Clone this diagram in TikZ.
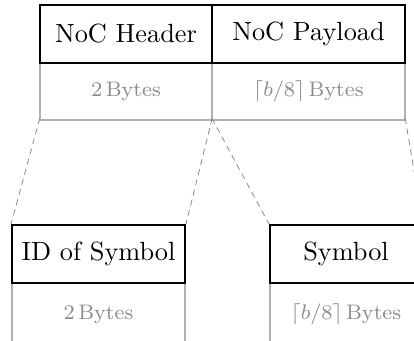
\documentclass[tikz,border=0pt]{standalone}
\usepackage{fontspec}
\usepackage{graphicx}
\definecolor{celledge}{HTML}{B0B0B0}
\definecolor{sizetext}{HTML}{8C8C8C}
\definecolor{zoomline}{HTML}{8A8A8A}
% labels are set at document size and enlarged as a whole
\newcommand{\fieldlabel}[1]{\scalebox{2.63}{\normalsize #1}}
\newcommand{\sizelabel}[1]{\scalebox{2.63}{\footnotesize #1}}
\begin{document}
\begin{tikzpicture}[x=1pt,y=-1pt,
  field/.style={draw=black,line width=1.9pt,minimum height=58pt,inner sep=0pt},
  sizecell/.style={minimum height=57pt,inner sep=0pt,text=sizetext},
  cellrule/.style={draw=celledge,line width=1.9pt},
  zoom/.style={draw=zoomline,line width=0.8pt,dash pattern=on 6pt off 4.5pt}]
\useasboundingbox (0,0) rectangle (414,340);
\clip (0,0) rectangle (414,340);

% packet: header and payload
\node[sizecell,minimum width=172pt] (hsz) at (126,91.5) {\sizelabel{2\,Bytes}};
\node[sizecell,minimum width=193pt] (psz) at (308.5,91.5) {\sizelabel{$\lceil b/8\rceil$\,Bytes}};
\draw[cellrule] (hsz.north west) -- (hsz.south west) -- (hsz.south east) -- (hsz.north east);
\draw[cellrule] (psz.south west) -- (psz.south east) -- (psz.north east);
\node[field,minimum width=172pt] (hdr) at (126,34) {\fieldlabel{NoC Header}};
\node[field,minimum width=193pt] (pay) at (308.5,34) {\fieldlabel{NoC Payload}};

% payload contents: symbol id and symbol
\node[sizecell,minimum width=173pt,minimum height=62pt] (isz) at (98.5,314) {\sizelabel{2\,Bytes}};
\node[sizecell,minimum width=152pt,minimum height=62pt] (ssz) at (346,314) {\sizelabel{$\lceil b/8\rceil$\,Bytes}};
\draw[cellrule] (isz.south west) -- (isz.north west) (isz.north east) -- (isz.south east);
\draw[cellrule] (ssz.south west) -- (ssz.north west) (ssz.north east) -- (ssz.south east);
\node[field,minimum width=173pt] (sid) at (98.5,254) {\fieldlabel{ID of Symbol}};
\node[field,minimum width=152pt] (sym) at (346,254) {\fieldlabel{Symbol}};

% zoom guides
\draw[zoom] ([yshift=2pt]hsz.south west) -- (sid.north west);
\draw[zoom] ([yshift=2pt]hsz.south east) -- (sid.north east);
\draw[zoom] ([yshift=2pt]psz.south west) -- (sym.north west);
\draw[zoom] ([yshift=2pt]psz.south east) -- (sym.north east);
\end{tikzpicture}
\end{document}
